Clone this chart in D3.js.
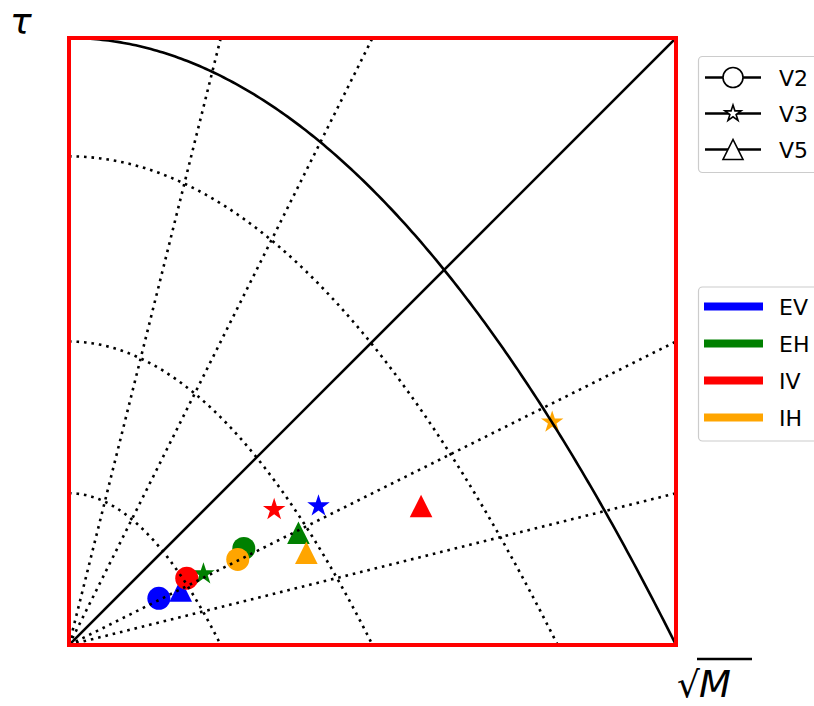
<!DOCTYPE html>
<html>
<head>
<meta charset="utf-8">
<script src="https://cdn.jsdelivr.net/npm/d3@7"></script>
<style>
  html, body { margin: 0; padding: 0; background: #fff; }
  svg { display: block; font-family: "DejaVu Sans", sans-serif; }
</style>
</head>
<body>
<svg id="chart" width="814" height="706"></svg>
<script>
// ---------- data ----------
const groups = ["EV", "EH", "IV", "IH"];
const groupColors = ["#0000ff", "#008000", "#ff0000", "#ffa500"];
const versions = ["V2", "V3", "V5"];
const versionMarkers = ["circle", "star", "triangle"];

// sqrt(M) values per group, order V2, V3, V5
const sqrtM_EV = [0.148, 0.411, 0.184];
const sqrtM_EH = [0.288, 0.2215, 0.378];
const sqrtM_IV = [0.194, 0.338, 0.580];
const sqrtM_IH = [0.278, 0.796, 0.391];
// tau values per group, order V2, V3, V5
const tau_EV = [0.077, 0.229, 0.090];
const tau_EH = [0.159, 0.117, 0.185];
const tau_IV = [0.110, 0.223, 0.229];
const tau_IH = [0.141, 0.367, 0.152];

const slopes = [4, 2, 0.5, 0.25];        // dotted radial guide lines tau = k*sqrt(M)
const arcLevels = [0.25, 0.5, 0.805];    // dotted scaled copies of the boundary curve
const boundaryLevel = 1;                 // solid boundary tau = 1 - M

// ---------- layout ----------
const svg = d3.select("#chart");
const L = 69, R = 676, T = 38, B = 645;
const x = d3.scaleLinear().domain([0, 1]).range([L, R]);
const y = d3.scaleLinear().domain([0, 1]).range([B, T]);

svg.append("defs").append("clipPath").attr("id", "plotclip")
  .append("rect").attr("x", L).attr("y", T).attr("width", R - L).attr("height", B - T);

const plot = svg.append("g");

// ---------- markers ----------
function starPath(r) {
  const ri = r * 0.381966;
  const pts = [];
  for (let i = 0; i < 10; i++) {
    const a = -Math.PI / 2 + i * Math.PI / 5;
    const rr = i % 2 === 0 ? r : ri;
    pts.push([rr * Math.cos(a), rr * Math.sin(a)]);
  }
  return "M" + pts.map(p => p[0].toFixed(2) + "," + p[1].toFixed(2)).join("L") + "Z";
}
function triPath(h) {
  return `M0,${-h}L${-h},${h}L${h},${h}Z`;
}
function markerPath(kind, size) {
  if (kind === "circle") return d3.symbol().type(d3.symbolCircle).size(Math.PI * size * size)();
  if (kind === "star") return starPath(size);
  return triPath(size);
}
const dataSizes = { circle: 11.5, star: 11.8, triangle: 11.3 };

const allX = [sqrtM_EV, sqrtM_EH, sqrtM_IV, sqrtM_IH];
const allY = [tau_EV, tau_EH, tau_IV, tau_IH];
const points = [];
groups.forEach((g, gi) => {
  versions.forEach((v, vi) => {
    points.push({ g, v, color: groupColors[gi], kind: versionMarkers[vi], sx: allX[gi][vi], t: allY[gi][vi] });
  });
});

plot.append("g").selectAll("path").data(points).join("path")
  .attr("d", d => markerPath(d.kind, dataSizes[d.kind]))
  .attr("transform", d => `translate(${x(d.sx)},${y(d.t)})`)
  .attr("fill", d => d.color);

// ---------- guide lines ----------
const lines = plot.append("g").attr("clip-path", "url(#plotclip)").attr("fill", "none");

slopes.forEach(k => {
  const xe = Math.min(1, 1 / k);
  lines.append("line")
    .attr("x1", x(0)).attr("y1", y(0)).attr("x2", x(xe)).attr("y2", y(k * xe))
    .attr("stroke", "#000").attr("stroke-width", 2.6)
    .attr("stroke-dasharray", "2.6,4.9");
});

const curve = d3.line().x(d => x(d[0])).y(d => y(d[1]));
function arcPts(s) {
  return d3.range(0, 201).map(i => { const xv = s * i / 200; return [xv, s - xv * xv / s]; });
}
arcLevels.forEach(s => {
  lines.append("path").attr("d", curve(arcPts(s)))
    .attr("stroke", "#000").attr("stroke-width", 2.6)
    .attr("stroke-dasharray", "2.6,4.9");
});
lines.append("path").attr("d", curve(arcPts(boundaryLevel)))
  .attr("stroke", "#000").attr("stroke-width", 2.6);
lines.append("line")
  .attr("x1", x(0)).attr("y1", y(0)).attr("x2", x(1)).attr("y2", y(1))
  .attr("stroke", "#000").attr("stroke-width", 2.6);

// ---------- frame ----------
svg.append("rect").attr("x", L).attr("y", T).attr("width", R - L).attr("height", B - T)
  .attr("fill", "none").attr("stroke", "#ff0000").attr("stroke-width", 4);

// ---------- axis labels ----------
svg.append("text").attr("x", 10).attr("y", 34)
  .attr("font-size", 36).attr("font-style", "italic").text("τ");

const xl = svg.append("g");
xl.append("text").attr("x", 677).attr("y", 697).attr("font-size", 36).text("√");
xl.append("text").attr("x", 699).attr("y", 697).attr("font-size", 37).attr("font-style", "italic").text("M");
xl.append("line").attr("x1", 697).attr("x2", 752).attr("y1", 659).attr("y2", 659)
  .attr("stroke", "#000").attr("stroke-width", 2.4);

// ---------- legend 1: versions ----------
const leg1 = svg.append("g");
leg1.append("rect").attr("x", 698.5).attr("y", 56.5).attr("width", 140).attr("height", 116)
  .attr("rx", 4).attr("fill", "#fff").attr("fill-opacity", 0.8).attr("stroke", "#cccccc").attr("stroke-width", 1.2);
const leg1Y = [77.5, 113.5, 149.5];
const legSizes = { circle: 10, star: 8.5, triangle: 10 };
versions.forEach((v, i) => {
  const gy = leg1Y[i];
  leg1.append("line").attr("x1", 705).attr("x2", 761).attr("y1", gy).attr("y2", gy)
    .attr("stroke", "#000").attr("stroke-width", 2.5);
  leg1.append("path").attr("d", markerPath(versionMarkers[i], legSizes[versionMarkers[i]]))
    .attr("transform", `translate(733,${gy})`)
    .attr("fill", "#fff").attr("stroke", "#000").attr("stroke-width", 1.6);
  leg1.append("text").attr("x", 779).attr("y", gy + 8).attr("font-size", 22).text(v);
});

// ---------- legend 2: groups ----------
const leg2 = svg.append("g");
leg2.append("rect").attr("x", 698.5).attr("y", 287).attr("width", 140).attr("height", 154)
  .attr("rx", 4).attr("fill", "#fff").attr("fill-opacity", 0.8).attr("stroke", "#cccccc").attr("stroke-width", 1.2);
const leg2Y = [306.5, 343.5, 380.5, 417.5];
groups.forEach((g, i) => {
  const gy = leg2Y[i];
  leg2.append("line").attr("x1", 704).attr("x2", 763).attr("y1", gy).attr("y2", gy)
    .attr("stroke", groupColors[i]).attr("stroke-width", 8);
  leg2.append("text").attr("x", 779).attr("y", gy + 8).attr("font-size", 22).text(g);
});
</script>
</body>
</html>
